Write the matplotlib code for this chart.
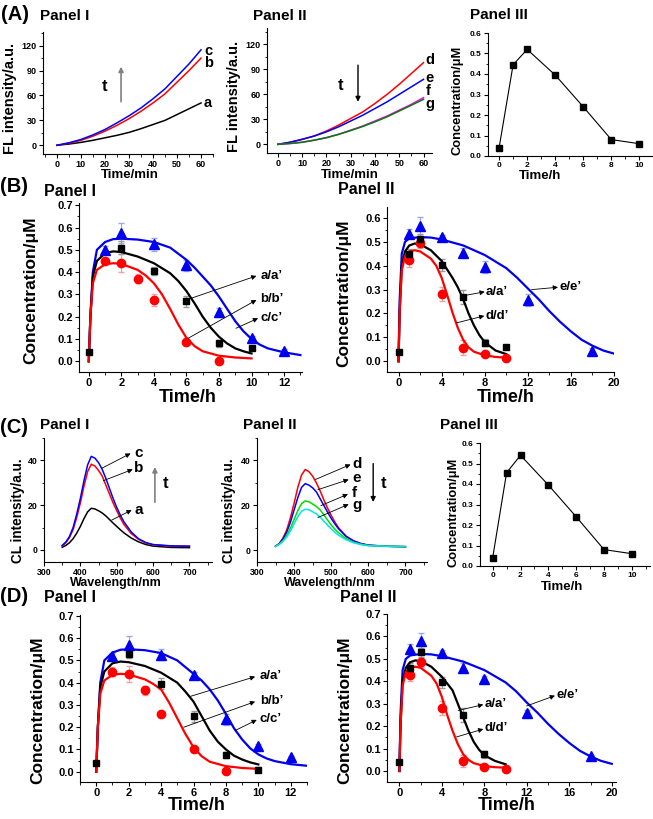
import matplotlib
matplotlib.use("Agg")
import matplotlib.pyplot as plt
from matplotlib.ticker import MultipleLocator

plt.rcParams["font.family"] = ["Liberation Sans", "DejaVu Sans"]
plt.rcParams["font.weight"] = "bold"
plt.rcParams["axes.labelweight"] = "bold"

# ---------------- data ----------------
# (A) fluorescence kinetics, time in min
fl_time = [0, 5, 10, 15, 20, 25, 30, 35, 40, 45, 50, 55, 60]
fl_a = [0, 1.5, 3.5, 6, 9, 12, 15.5, 20, 25, 30, 37, 44, 51]
fl_b = [0, 2.5, 6, 11, 17, 24, 32, 41, 51, 62, 76, 90, 105]
fl_c = [0, 3, 7, 12.5, 19, 27, 35.5, 45, 56, 68, 83, 98, 115]
fl_d = [0, 2.5, 6, 10, 16, 23, 31, 39, 49, 60, 72, 85, 98]
fl_e = [0, 2.5, 6, 10, 15, 21, 28, 35, 43, 51, 60, 69, 78]
fl_f = [0, 1, 2.5, 5, 8, 12, 17, 22, 28, 34, 41, 48, 56]
fl_g = [0, 1, 2.5, 5, 8, 12, 16.5, 21.5, 27, 33, 40, 47, 54]

pk_time = [0, 1, 2, 4, 6, 8, 10]
pk_conc_A = [0.04, 0.445, 0.52, 0.395, 0.24, 0.08, 0.06]
pk_conc_C = [0.04, 0.455, 0.54, 0.395, 0.24, 0.08, 0.06]

# (C) chemiluminescence spectra
wl = [350, 360, 370, 380, 390, 400, 410, 420, 430, 440, 450, 460,
      470, 480, 490, 500, 510, 520, 540, 560, 580, 600, 650, 700]
cl_a = [1.2, 2, 3.2, 5, 7.5, 10.5, 14, 17, 18.6, 18.3, 17.5, 16.5,
        15.2, 13.6, 12, 10.5, 9, 7.6, 5.3, 3.6, 2.4, 1.7, 1.1, 1.0]
cl_b = [1.8, 3.2, 5.5, 9, 14.5, 21, 28.5, 35, 38.3, 37.5, 35.5, 33,
        29, 25, 21, 17.5, 14.2, 11.3, 7.3, 4.7, 3.1, 2.3, 1.7, 1.6]
cl_c = [2, 3.5, 6, 10, 16, 23, 31, 38, 41.8, 41, 39, 36,
        32, 27.5, 23, 19, 15.5, 12.5, 8, 5, 3.3, 2.4, 1.8, 1.7]
cl_d = [1.8, 3, 5.5, 9, 14.5, 21, 28, 33.5, 36, 35, 33, 30,
        26.5, 22.5, 18.8, 15.5, 12.5, 10, 6.3, 4.2, 3, 2.3, 1.8, 1.6]
cl_e = [1.8, 2.9, 5, 8, 12.5, 18, 23.5, 28, 29.7, 29, 27.8, 26,
        23, 20, 17, 14.2, 11.7, 9.5, 6.2, 4.2, 3, 2.3, 1.8, 1.6]
cl_f = [1.8, 2.7, 4.3, 6.5, 9.8, 13.8, 17.7, 20.8, 22, 21.6, 20.6, 19.5,
        18, 15.8, 13.5, 11.3, 9.4, 7.8, 5.2, 3.6, 2.7, 2.1, 1.8, 1.7]
cl_g = [1.8, 2.6, 4, 5.9, 8.6, 11.8, 15, 17.4, 18.3, 18, 17.2, 16.2,
        14.8, 13, 11.2, 9.5, 8, 6.7, 4.7, 3.4, 2.6, 2.1, 1.8, 1.7]

# (B) Panel I: measured points and fitted curves
bI_sq_t = [0, 2, 4, 6, 8, 10]
bI_sq = [0.04, 0.51, 0.405, 0.27, 0.08, 0.06]
bI_sq_err = [0, 0.03, 0.02, 0.025, 0.015, 0.01]
bI_ci_t = [1, 2, 3, 4, 6, 8]
bI_ci = [0.45, 0.44, 0.37, 0.275, 0.085, 0.003]
bI_ci_err = [0.015, 0.04, 0.02, 0.025, 0.01, 0.005]
bI_tr_t = [1, 2, 4, 6, 8, 10, 12]
bI_tr = [0.50, 0.575, 0.525, 0.43, 0.22, 0.105, 0.045]
bI_tr_err = [0.015, 0.045, 0.03, 0.025, 0.02, 0.01, 0.01]
bI_fit_k_t = [0, 0.1, 0.25, 0.5, 1, 1.5, 2, 3, 4, 5, 5.5, 6, 6.5, 7, 7.5, 8, 8.5, 9, 9.5, 10]
bI_fit_k = [0, 0.2, 0.38, 0.45, 0.485, 0.493, 0.49, 0.47, 0.44, 0.395, 0.36, 0.315,
            0.26, 0.2, 0.15, 0.11, 0.08, 0.058, 0.045, 0.035]
bI_fit_r_t = [0, 0.1, 0.25, 0.5, 1, 1.5, 2, 3, 3.5, 4, 4.5, 5, 5.5, 6, 6.5, 7, 8, 9, 10]
bI_fit_r = [0, 0.2, 0.35, 0.41, 0.435, 0.44, 0.437, 0.41, 0.385, 0.35, 0.3, 0.235,
            0.165, 0.105, 0.068, 0.045, 0.025, 0.017, 0.013]
bI_fit_b_t = [0, 0.1, 0.25, 0.5, 1, 1.5, 2, 3, 4, 5, 6, 6.5, 7, 7.5, 8, 8.5, 9, 9.5,
              10, 10.5, 11, 12, 13]
bI_fit_b = [0, 0.2, 0.4, 0.5, 0.535, 0.548, 0.55, 0.546, 0.535, 0.51, 0.455, 0.42,
            0.38, 0.34, 0.29, 0.235, 0.18, 0.135, 0.1, 0.075, 0.058, 0.04, 0.028]

# (B) Panel II
bII_sq_t = [0, 1, 2, 4, 6, 8, 10]
bII_sq = [0.04, 0.45, 0.51, 0.405, 0.27, 0.078, 0.06]
bII_sq_err = [0, 0.02, 0.025, 0.025, 0.03, 0.015, 0.01]
bII_ci_t = [1, 2, 4, 6, 8, 10]
bII_ci = [0.425, 0.495, 0.283, 0.057, 0.03, 0.015]
bII_ci_err = [0.03, 0.02, 0.03, 0.03, 0.01, 0.005]
bII_tr_t = [1, 2, 4, 6, 8, 12, 18]
bII_tr = [0.535, 0.565, 0.52, 0.455, 0.395, 0.255, 0.045]
bII_tr_err = [0.02, 0.04, 0.01, 0.02, 0.025, 0.025, 0.01]
bII_fit_k_t = [0, 0.1, 0.3, 0.6, 1, 1.5, 2, 3, 4, 5, 5.5, 6, 6.5, 7, 7.5, 8, 9, 10]
bII_fit_k = [0, 0.2, 0.4, 0.46, 0.485, 0.493, 0.49, 0.465, 0.42, 0.35, 0.31, 0.26,
             0.2, 0.15, 0.11, 0.08, 0.045, 0.03]
bII_fit_r_t = [0, 0.1, 0.3, 0.6, 1, 1.5, 2, 3, 3.5, 4, 4.5, 5, 5.5, 6, 6.5, 7, 8, 9, 10]
bII_fit_r = [0, 0.2, 0.38, 0.44, 0.46, 0.465, 0.46, 0.43, 0.4, 0.35, 0.28, 0.205,
             0.14, 0.09, 0.058, 0.04, 0.025, 0.018, 0.015]
bII_fit_b_t = [0, 0.1, 0.3, 0.6, 1, 2, 3, 4, 6, 8, 10, 11, 12, 13, 14, 15, 16, 17, 18, 19, 20]
bII_fit_b = [0, 0.25, 0.45, 0.5, 0.515, 0.52, 0.518, 0.51, 0.485, 0.445, 0.39, 0.35,
             0.305, 0.26, 0.21, 0.165, 0.125, 0.09, 0.065, 0.045, 0.032]

# (D) Panel I
dI_sq_t = [0, 2, 4, 6, 8, 10]
dI_sq = [0.04, 0.53, 0.395, 0.25, 0.075, 0.01]
dI_sq_err = [0, 0.02, 0.025, 0.025, 0.015, 0.01]
dI_ci_t = [1, 2, 3, 4, 6, 8]
dI_ci = [0.45, 0.44, 0.365, 0.26, 0.10, 0.003]
dI_ci_err = [0.02, 0.035, 0.02, 0.015, 0.01, 0.005]
dI_tr_t = [1, 2, 4, 6, 8, 10, 12]
dI_tr = [0.52, 0.57, 0.525, 0.435, 0.235, 0.115, 0.065]
dI_tr_err = [0.015, 0.04, 0.025, 0.015, 0.025, 0.01, 0.005]
dI_fit_k_t = [0, 0.1, 0.25, 0.5, 1, 1.5, 2, 3, 4, 5, 5.5, 6, 6.5, 7, 7.5, 8, 8.5, 9, 9.5, 10]
dI_fit_k = [0, 0.2, 0.38, 0.45, 0.487, 0.495, 0.492, 0.475, 0.445, 0.4, 0.36, 0.315,
            0.25, 0.185, 0.135, 0.1, 0.072, 0.055, 0.042, 0.033]
dI_fit_r_t = [0, 0.1, 0.25, 0.5, 1, 1.5, 2, 3, 3.5, 4, 4.5, 5, 5.5, 6, 6.5, 7, 8, 9, 10]
dI_fit_r = [0, 0.2, 0.35, 0.41, 0.435, 0.44, 0.437, 0.415, 0.395, 0.37, 0.31, 0.24,
            0.17, 0.11, 0.07, 0.045, 0.025, 0.017, 0.013]
dI_fit_b_t = [0, 0.1, 0.25, 0.5, 1, 1.5, 2, 3, 4, 5, 6, 6.5, 7, 7.5, 8, 8.5, 9, 9.5,
              10, 10.5, 11, 12, 13]
dI_fit_b = [0, 0.2, 0.4, 0.5, 0.535, 0.548, 0.55, 0.546, 0.533, 0.5, 0.44, 0.41,
            0.37, 0.32, 0.26, 0.195, 0.145, 0.105, 0.078, 0.06, 0.048, 0.034, 0.027]

# (D) Panel II
dII_sq_t = [0, 1, 2, 4, 6, 8]
dII_sq = [0.04, 0.46, 0.53, 0.395, 0.25, 0.075]
dII_sq_err = [0, 0.02, 0.02, 0.025, 0.03, 0.015]
dII_ci_t = [1, 2, 4, 6, 8, 10]
dII_ci = [0.43, 0.485, 0.28, 0.045, 0.02, 0.008]
dII_ci_err = [0.03, 0.02, 0.03, 0.025, 0.01, 0.005]
dII_tr_t = [1, 2, 4, 6, 8, 12, 18]
dII_tr = [0.545, 0.58, 0.525, 0.46, 0.41, 0.26, 0.065]
dII_tr_err = [0.02, 0.035, 0.015, 0.02, 0.015, 0.01, 0.005]
dII_fit_k_t = [0, 0.1, 0.3, 0.6, 1, 1.5, 2, 3, 4, 5, 5.5, 6, 6.5, 7, 7.5, 8, 9, 10]
dII_fit_k = [0, 0.2, 0.4, 0.46, 0.485, 0.493, 0.49, 0.465, 0.42, 0.36, 0.3, 0.24,
             0.18, 0.13, 0.095, 0.07, 0.045, 0.03]
dII_fit_r_t = [0, 0.1, 0.3, 0.6, 1, 1.5, 2, 3, 3.5, 4, 4.5, 5, 5.5, 6, 6.5, 7, 8, 9, 10]
dII_fit_r = [0, 0.2, 0.38, 0.44, 0.46, 0.465, 0.46, 0.425, 0.39, 0.33, 0.25, 0.18,
             0.12, 0.075, 0.05, 0.035, 0.022, 0.017, 0.015]
dII_fit_b_t = [0, 0.1, 0.3, 0.6, 1, 2, 3, 4, 6, 8, 10, 11, 12, 13, 14, 15, 16, 17, 18, 19, 20]
dII_fit_b = [0, 0.25, 0.45, 0.5, 0.515, 0.522, 0.52, 0.512, 0.488, 0.45, 0.395, 0.355,
             0.305, 0.26, 0.21, 0.165, 0.125, 0.09, 0.065, 0.045, 0.032]

# ---------------- layout helpers ----------------
W, H = 653, 819
fig = plt.figure(figsize=(W / 100, H / 100), dpi=100)


def box(l, t, r, b):
    return fig.add_axes([l / W, 1 - b / H, (r - l) / W, (b - t) / H])


def txt(x, y, s, size, ha="left", rot=0):
    fig.text(x / W, 1 - y / H, s, fontsize=size, fontweight="bold",
             ha=ha, va="center", rotation=rot)


def style(ax, xlim, ylim, xmaj, ymaj, fs):
    ax.set_xlim(*xlim)
    ax.set_ylim(*ylim)
    for s in ["top", "right"]:
        ax.spines[s].set_visible(False)
    for s in ["left", "bottom"]:
        ax.spines[s].set_linewidth(0.8)
    ax.xaxis.set_major_locator(MultipleLocator(xmaj))
    ax.xaxis.set_minor_locator(MultipleLocator(xmaj / 2))
    ax.yaxis.set_major_locator(MultipleLocator(ymaj))
    ax.yaxis.set_minor_locator(MultipleLocator(ymaj / 2))
    ax.tick_params(which="major", direction="out", length=3, width=0.8,
                   labelsize=fs, pad=1.5)
    ax.tick_params(which="minor", direction="out", length=1.8, width=0.6)
    for lab in ax.get_xticklabels() + ax.get_yticklabels():
        lab.set_fontweight("bold")


def arrow(ax, start, end, color="k", lw=0.6, ms=7):
    ax.annotate("", xy=end, xytext=start, annotation_clip=False,
                arrowprops=dict(arrowstyle="-|>", color=color, lw=lw,
                                mutation_scale=ms, shrinkA=0, shrinkB=0))


def conc_panel(ax, sq, ci, tr, fits):
    (sq_t, sq_y, sq_e), (ci_t, ci_y, ci_e), (tr_t, tr_y, tr_e) = sq, ci, tr
    (kt, ky), (rt, ry), (bt, by) = fits
    ax.errorbar(tr_t, tr_y, yerr=tr_e, fmt="none", ecolor="#9aa6f0", elinewidth=0.8, capsize=2)
    ax.errorbar(ci_t, ci_y, yerr=ci_e, fmt="none", ecolor="#f0a0a0", elinewidth=0.8, capsize=2)
    ax.errorbar(sq_t, sq_y, yerr=sq_e, fmt="none", ecolor="#999999", elinewidth=0.8, capsize=2)
    ax.plot(bt, by, color="#0000ee", lw=1.6)
    ax.plot(kt, ky, color="black", lw=1.6)
    ax.plot(rt, ry, color="#ff0000", lw=1.6)
    ax.plot(tr_t, tr_y, "^", color="#0000ee", ms=6.5, ls="none")
    ax.plot(ci_t, ci_y, "o", color="#ff0000", ms=6, ls="none")
    ax.plot(sq_t, sq_y, "s", color="black", ms=5, ls="none")


# ---------------- (A) ----------------
ax = box(43, 32, 213, 154)
ax.plot(fl_time, fl_a, color="black", lw=1.1)
ax.plot(fl_time, fl_b, color="#ff0000", lw=1.1)
ax.plot(fl_time, fl_c, color="#0000ff", lw=1.1)
style(ax, (-5.8, 65), (-10.5, 136.5), 10, 30, 6.5)
arrow(ax, (26.7, 52.5), (26.7, 94.7), color="#808080", lw=1.2, ms=7)
ax.text(19.7, 71, "t", fontsize=12, fontweight="bold", ha="center", va="center")
for lab, y in [("c", 114), ("b", 99), ("a", 50.5)]:
    ax.text(61.3, y, lab, fontsize=10.5, fontweight="bold", va="center", clip_on=False)

ax = box(267, 28, 432, 153)
ax.plot(fl_time, fl_d, color="#ff0000", lw=1.1)
ax.plot(fl_time, fl_e, color="#0000ff", lw=1.1)
ax.plot(fl_time, fl_f, color="#ff00ff", lw=1.1)
ax.plot(fl_time, fl_g, color="#008000", lw=1.1)
style(ax, (-4.5, 63.5), (-10.4, 139.6), 10, 30, 6.5)
arrow(ax, (33, 95), (33, 51), color="black", lw=1.0, ms=7)
ax.text(26, 71, "t", fontsize=12, fontweight="bold", ha="center", va="center")
for lab, y in [("d", 101), ("e", 80), ("f", 64.5), ("g", 48.5)]:
    ax.text(60.8, y, lab, fontsize=10.5, fontweight="bold", va="center", clip_on=False)

ax = box(488, 33, 652, 156)
ax.plot(pk_time, pk_conc_A, "s-", color="black", lw=0.8, ms=3.8)
style(ax, (-0.79, 10.9), (0, 0.6), 2, 0.1, 6)

txt(1, 15, "(A)", 14.5)
txt(40, 16, "Panel I", 11)
txt(253, 16, "Panel II", 11)
txt(470, 15, "Panel III", 11)
txt(10, 98, "FL intensity/a.u.", 10.5, ha="center", rot=90)
txt(130, 175, "Time/min", 9.5, ha="center")
txt(234, 96, "FL intensity/a.u.", 10.5, ha="center", rot=90)
txt(350, 175, "Time/min", 9.5, ha="center")
txt(457, 100, "Concentration/\u03bcM", 9.3, ha="center", rot=90)
txt(540, 176, "Time/h", 9.5, ha="center")

# ---------------- (B) ----------------
ax = box(79, 203, 302, 372)
conc_panel(ax, (bI_sq_t, bI_sq, bI_sq_err), (bI_ci_t, bI_ci, bI_ci_err),
           (bI_tr_t, bI_tr, bI_tr_err),
           ((bI_fit_k_t, bI_fit_k), (bI_fit_r_t, bI_fit_r), (bI_fit_b_t, bI_fit_b)))
style(ax, (-0.6, 13.1), (-0.048, 0.71), 2, 0.1, 8)
arrow(ax, (6.3, 0.283), (10.3, 0.383))
arrow(ax, (6.1, 0.103), (10.3, 0.275))
arrow(ax, (9.04, 0.148), (10.4, 0.193))
for lab, y in [("a/a\u2019", 0.383), ("b/b\u2019", 0.28), ("c/c\u2019", 0.195)]:
    ax.text(10.55, y, lab, fontsize=9.5, fontweight="bold", va="center", clip_on=False)

ax = box(387, 207, 614, 372)
conc_panel(ax, (bII_sq_t, bII_sq, bII_sq_err), (bII_ci_t, bII_ci, bII_ci_err),
           (bII_tr_t, bII_tr, bII_tr_err),
           ((bII_fit_k_t, bII_fit_k), (bII_fit_r_t, bII_fit_r), (bII_fit_b_t, bII_fit_b)))
style(ax, (-1.07, 20), (-0.045, 0.646), 4, 0.1, 8)
arrow(ax, (5.87, 0.273), (8.0, 0.291))
arrow(ax, (5.4, 0.161), (7.96, 0.19))
arrow(ax, (12.35, 0.30), (14.8, 0.31))
ax.text(8.1, 0.29, "a/a\u2019", fontsize=9.5, fontweight="bold", va="center")
ax.text(8.1, 0.19, "d/d\u2019", fontsize=9.5, fontweight="bold", va="center")
ax.text(14.95, 0.31, "e/e\u2019", fontsize=9.5, fontweight="bold", va="center")

txt(0, 186, "(B)", 14.5)
txt(44, 191, "Panel I", 11.5)
txt(338, 190, "Panel II", 11.5)
txt(31, 290, "Concentration/\u03bcM", 12.5, ha="center", rot=90)
txt(188, 397, "Time/h", 13, ha="center")
txt(344, 293, "Concentration/\u03bcM", 12.5, ha="center", rot=90)
txt(506, 397, "Time/h", 13, ha="center")

# ---------------- (C) ----------------
ax = box(44, 438, 212, 562)
ax.plot(wl, cl_a, color="black", lw=1.1)
ax.plot(wl, cl_b, color="#ff0000", lw=1.1)
ax.plot(wl, cl_c, color="#0000ff", lw=1.1)
style(ax, (300, 762), (-5.4, 50), 100, 20, 6.3)
arrow(ax, (458, 36.4), (538, 43.1))
arrow(ax, (463, 30.9), (544, 36))
arrow(ax, (486, 13.3), (541, 17.8))
for lab, y in [("c", 43.5), ("b", 36.5), ("a", 18)]:
    ax.text(548, y, lab, fontsize=11, fontweight="bold", va="center")
arrow(ax, (605, 21.3), (605, 37), color="#808080", lw=1.2, ms=7)
ax.text(633, 29.8, "t", fontsize=12, fontweight="bold", ha="center", va="center")

ax = box(257, 438, 427, 562)
ax.plot(wl, cl_d, color="#ff0000", lw=1.1)
ax.plot(wl, cl_e, color="#0000ff", lw=1.1)
ax.plot(wl, cl_f, color="#00dd00", lw=1.1)
ax.plot(wl, cl_g, color="#00e5e5", lw=1.1)
style(ax, (300, 758), (-5.2, 50), 100, 20, 6.3)
arrow(ax, (457, 31.5), (552, 38.2))
arrow(ax, (464, 27), (547, 31.5))
arrow(ax, (472, 19.9), (545, 25))
arrow(ax, (464, 14.6), (547, 20.5))
for lab, y in [("d", 38.5), ("e", 32), ("f", 25.5), ("g", 20)]:
    ax.text(556, y, lab, fontsize=11, fontweight="bold", va="center")
arrow(ax, (613, 38.6), (613, 21.5), color="black", lw=1.0, ms=7)
ax.text(642, 29.8, "t", fontsize=12, fontweight="bold", ha="center", va="center")

ax = box(480, 443, 650, 566)
ax.plot(pk_time, pk_conc_C, "s-", color="black", lw=0.8, ms=3.8)
style(ax, (-0.91, 11.3), (0, 0.6), 2, 0.1, 6)

txt(0, 427, "(C)", 14.5)
txt(40, 425, "Panel I", 11)
txt(243, 425, "Panel II", 11)
txt(440, 425, "Panel III", 11)
txt(18, 511, "CL intensity/a.u.", 9.8, ha="center", rot=90)
txt(116, 583, "Wavelength/nm", 9, ha="center")
txt(229, 511, "CL intensity/a.u.", 9.8, ha="center", rot=90)
txt(330, 583, "Wavelength/nm", 9, ha="center")
txt(453, 512, "Concentration/\u03bcM", 9.3, ha="center", rot=90)
txt(562, 587, "Time/h", 9.5, ha="center")

# ---------------- (D) ----------------
ax = box(80, 615, 307, 782)
conc_panel(ax, (dI_sq_t, dI_sq, dI_sq_err), (dI_ci_t, dI_ci, dI_ci_err),
           (dI_tr_t, dI_tr, dI_tr_err),
           ((dI_fit_k_t, dI_fit_k), (dI_fit_r_t, dI_fit_r), (dI_fit_b_t, dI_fit_b)))
style(ax, (-1.0, 13), (-0.046, 0.704), 2, 0.1, 8)
arrow(ax, (5.78, 0.338), (9.8, 0.427))
arrow(ax, (5.4, 0.2), (9.8, 0.315))
arrow(ax, (8.56, 0.185), (9.9, 0.233))
for lab, y in [("a/a\u2019", 0.43), ("b/b\u2019", 0.32), ("c/c\u2019", 0.235)]:
    ax.text(10.1, y, lab, fontsize=9.5, fontweight="bold", va="center", clip_on=False)

ax = box(387, 614, 616, 782)
conc_panel(ax, (dII_sq_t, dII_sq, dII_sq_err), (dII_ci_t, dII_ci, dII_ci_err),
           (dII_tr_t, dII_tr, dII_tr_err),
           ((dII_fit_k_t, dII_fit_k), (dII_fit_r_t, dII_fit_r), (dII_fit_b_t, dII_fit_b)))
style(ax, (-1.17, 20.4), (-0.049, 0.7), 4, 0.1, 8)
arrow(ax, (5.53, 0.27), (7.9, 0.296))
arrow(ax, (5.38, 0.152), (7.9, 0.187))
arrow(ax, (11.98, 0.29), (14.65, 0.336))
ax.text(8.0, 0.3, "a/a\u2019", fontsize=9.5, fontweight="bold", va="center")
ax.text(8.0, 0.19, "d/d\u2019", fontsize=9.5, fontweight="bold", va="center")
ax.text(14.8, 0.34, "e/e\u2019", fontsize=9.5, fontweight="bold", va="center")

txt(0, 597, "(D)", 14.5)
txt(44, 598, "Panel I", 11.5)
txt(340, 598, "Panel II", 11.5)
txt(38, 710, "Concentration/\u03bcM", 12.5, ha="center", rot=90)
txt(197, 806, "Time/h", 13, ha="center")
txt(345, 710, "Concentration/\u03bcM", 12.5, ha="center", rot=90)
txt(507, 806, "Time/h", 13, ha="center")

fig.savefig("out.png", dpi=100)
